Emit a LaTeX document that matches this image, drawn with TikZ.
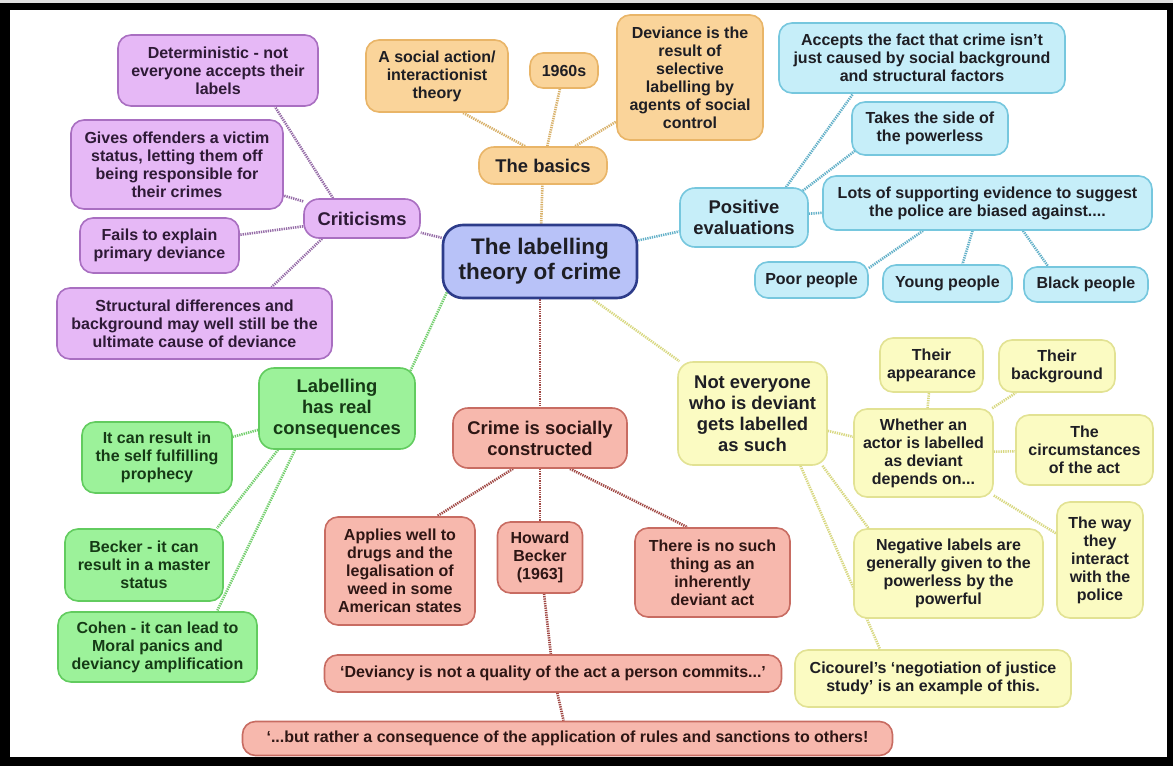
\documentclass[tikz,border=0pt]{standalone}
\usepackage{fontspec}
\setmainfont{Liberation Sans}
\usepackage{xcolor}
\usepackage{tikz}
\usetikzlibrary{positioning, backgrounds}
\definecolor{chub}{HTML}{B8C2F8}
\definecolor{chubd}{HTML}{2D3C8A}
\definecolor{corg}{HTML}{FAD49A}
\definecolor{corgd}{HTML}{E9B568}
\definecolor{cpur}{HTML}{E6B8F6}
\definecolor{cpurd}{HTML}{A96FC1}
\definecolor{ccya}{HTML}{C6EEF9}
\definecolor{ccyad}{HTML}{76C7DE}
\definecolor{cgrn}{HTML}{9CF29A}
\definecolor{cgrnd}{HTML}{62CC5F}
\definecolor{cred}{HTML}{F7B8AD}
\definecolor{credd}{HTML}{C86C62}
\definecolor{cyel}{HTML}{FBFBC2}
\definecolor{cyeld}{HTML}{E2E293}
\definecolor{clorg}{HTML}{D8B068}
\definecolor{clpur}{HTML}{946AA6}
\definecolor{clcya}{HTML}{62B0C8}
\definecolor{clgrn}{HTML}{72CF6C}
\definecolor{clred}{HTML}{A04844}
\definecolor{clyel}{HTML}{D8D880}
\definecolor{ctxt}{HTML}{1E1E24}
\definecolor{ctpur}{HTML}{2E1A36}
\definecolor{ctgrn}{HTML}{163A16}
\definecolor{ctred}{HTML}{2E1614}
\tikzset{
  hub/.style={draw=chubd, fill=chub, line width=2.6pt, rounded corners=20pt, align=center,
              text=ctxt, font=\fontsize{22.5}{25}\selectfont\bfseries, inner sep=2pt},
  brn/.style={line width=1.6pt, rounded corners=15pt, align=center, text=ctxt,
              font=\fontsize{18.4}{21}\selectfont\bfseries, inner sep=2pt},
  lf/.style={line width=1.6pt, rounded corners=13pt, align=center, text=ctxt,
             font=\fontsize{16}{18}\selectfont\bfseries, inner sep=2pt},
  sz/.style 2 args={minimum width=#1pt, minimum height=#2pt},
  tbas/.style={draw=corgd, fill=corg},
  tcrit/.style={draw=cpurd, fill=cpur, text=ctpur},
  tpos/.style={draw=ccyad, fill=ccya},
  tcons/.style={draw=cgrnd, fill=cgrn, text=ctgrn},
  tsoc/.style={draw=credd, fill=cred, text=ctred},
  tnot/.style={draw=cyeld, fill=cyel},
  lk/.style={draw=#1, line width=2.6pt, dash pattern=on 1.3pt off 1pt},
}

\begin{document}
\begin{tikzpicture}[x=1pt, y=-1pt, on grid]
  \node[hub, sz={194}{73}] (hub) at (540,261.5) {The labelling\\theory of crime};
  % the basics
  \node[brn, tbas, sz={128}{37}, above right=96pt and 3pt of hub] (basics) {The basics};
  \node[lf, tbas, sz={142}{72}, above left=89.5pt and 106pt of basics] (social) {A social action/\\interactionist\\theory};
  \node[lf, tbas, sz={68}{35}, above right=95pt and 21pt of basics] (sixties) {1960s};
  \node[lf, tbas, sz={146}{125}, above right=88pt and 147pt of basics] (selective) {Deviance is the\\result of\\selective\\labelling by\\agents of social\\control};
  % criticisms
  \node[brn, tcrit, sz={116}{39}, above left=43pt and 178pt of hub] (crit) {Criticisms};
  \node[lf, tcrit, sz={200}{71}, above left=148pt and 144pt of crit] (determ) {Deterministic - not\\everyone accepts their\\labels};
  \node[lf, tcrit, sz={212}{89}, above left=54pt and 185pt of crit] (victim) {Gives offenders a victim\\status, letting them off\\being responsible for\\their crimes};
  \node[lf, tcrit, sz={159}{55}, below left=27pt and 202.5pt of crit] (fails) {Fails to explain\\primary deviance};
  \node[lf, tcrit, sz={275}{71}, below left=105pt and 167.5pt of crit] (struct) {Structural differences and\\background may well still be the\\ultimate cause of deviance};
  % positive evaluations
  \node[brn, tpos, sz={128}{59}, above right=44pt and 204pt of hub] (pos) {Positive\\evaluations};
  \node[lf, tpos, sz={286}{70}, above right=159.5pt and 178pt of pos] (accepts) {Accepts the fact that crime isn’t\\just caused by social background\\and structural factors};
  \node[lf, tpos, sz={156}{53}, above right=89pt and 186pt of pos] (side) {Takes the side of\\the powerless};
  \node[lf, tpos, sz={329}{54}, above right=14.5pt and 243.5pt of pos] (lots) {Lots of supporting evidence to suggest\\the police are biased against....};
  \node[lf, tpos, sz={113}{36}, below left=77pt and 176pt of lots] (poor) {Poor people};
  \node[lf, tpos, sz={129}{37}, below left=80.5pt and 40pt of lots] (young) {Young people};
  \node[lf, tpos, sz={124}{35}, below right=81.5pt and 98.5pt of lots] (black) {Black people};
  % real consequences
  \node[brn, tcons, sz={156}{81}, below left=147pt and 203pt of hub] (real) {Labelling\\has real\\consequences};
  \node[lf, tcons, sz={150}{71}, below left=49pt and 180pt of real] (prophecy) {It can result in\\the self fulfilling\\prophecy};
  \node[lf, tcons, sz={158}{72}, below left=156.5pt and 193pt of real] (master) {Becker - it can\\result in a master\\status};
  \node[lf, tcons, sz={199}{70}, below left=238.5pt and 179.5pt of real] (cohen) {Cohen - it can lead to\\Moral panics and\\deviancy amplification};
  % socially constructed
  \node[brn, tsoc, sz={174}{60}, below=176.5pt of hub] (cons) {Crime is socially\\constructed};
  \node[lf, tsoc, sz={150}{108}, below left=133pt and 140pt of cons] (drugs) {Applies well to\\drugs and the\\legalisation of\\weed in some\\American states};
  \node[lf, tsoc, sz={85}{71}, below=119.5pt of cons] (becker) {Howard\\Becker\\(1963]};
  \node[lf, tsoc, sz={155}{89}, below right=134.5pt and 172.5pt of cons] (noact) {There is no such\\thing as an\\inherently\\deviant act};
  \node[lf, tsoc, sz={457}{37}, below right=116pt and 13pt of becker] (quote1) {‘Deviancy is not a quality of the act a person commits...’};
  \node[lf, tsoc, sz={650}{34}, below right=65pt and 14.5pt of quote1] (quote2) {‘...but rather a consequence of the application of rules and sanctions to others!};
  % not everyone labelled
  \node[brn, tnot, sz={149}{103}, below right=152pt and 212.5pt of hub] (noteach) {Not everyone\\who is deviant\\gets labelled\\as such};
  \node[lf, tnot, sz={139}{88}, below right=39.5pt and 171pt of noteach] (whether) {Whether an\\actor is labelled\\as deviant\\depends on...};
  \node[lf, tnot, sz={103}{54}, above right=88pt and 8pt of whether] (appear) {Their\\appearance};
  \node[lf, tnot, sz={116}{52}, above right=87pt and 133.5pt of whether] (backgr) {Their\\background};
  \node[lf, tnot, sz={137}{70}, above right=3pt and 161pt of whether] (circ) {The\\circumstances\\of the act};
  \node[lf, tnot, sz={86}{116}, below right=107pt and 176.5pt of whether] (police) {The way\\they\\interact\\with the\\police};
  \node[lf, tnot, sz={189}{89}, below right=160pt and 196pt of noteach] (negative) {Negative labels are\\generally given to the\\powerless by the\\powerful};
  \node[lf, tnot, sz={276}{57}, below right=265pt and 180.5pt of noteach] (cicourel) {Cicourel’s ‘negotiation of justice\\study’ is an example of this.};

  \begin{scope}[on background layer]
    % frame
    \fill[black!12] (0,0) rectangle (1173,3);
    \fill[black] (0,3) rectangle (1173,766);
    \fill[white] (10,10) rectangle (1167,757);
    % the basics
    \draw[lk=clorg] (hub) -- (basics);
    \draw[lk=clorg] ([xshift=-18pt]basics.north) -- ([xshift=26pt]social.south);
    \draw[lk=clorg] (basics) -- (sixties);
    \draw[lk=clorg] (basics) -- (selective);
    % criticisms
    \draw[lk=clpur] (hub) -- (crit);
    \draw[lk=clpur] ([xshift=-29pt]crit.north) -- ([xshift=57pt]determ.south);
    \draw[lk=clpur] (crit) -- (victim);
    \draw[lk=clpur] (crit) -- (fails);
    \draw[lk=clpur] ([xshift=-40pt]crit.south) -- ([xshift=77pt]struct.north);
    % positive evaluations
    \draw[lk=clcya] (hub) -- (pos);
    \draw[lk=clcya] ([xshift=42pt]pos.north) -- ([xshift=-69pt]accepts.south);
    \draw[lk=clcya] ([xshift=46pt,yshift=17pt]pos.center) -- ([xshift=-55pt,yshift=-7pt]side.center);
    \draw[lk=clcya] (pos) -- (lots);
    \draw[lk=clcya] ([xshift=-64.5pt]lots.south) -- ([yshift=12pt]poor.east);
    \draw[lk=clcya] ([xshift=-15pt]lots.south) -- ([xshift=15pt]young.north);
    \draw[lk=clcya] ([xshift=35.5pt]lots.south) -- ([xshift=-38pt]black.north);
    % real consequences
    \draw[lk=clgrn] ([xshift=-88.4pt,yshift=-20.5pt]hub.center) -- ([xshift=68.3pt,yshift=26.5pt]real.center);
    \draw[lk=clgrn] (real) -- (prophecy);
    \draw[lk=clgrn] ([xshift=-59pt]real.south) -- ([xshift=73pt]master.north);
    \draw[lk=clgrn] ([xshift=-42pt]real.south) -- ([xshift=59.5pt]cohen.north);
    % socially constructed
    \draw[lk=clred] (hub) -- (cons);
    \draw[lk=clred] ([xshift=-27pt]cons.south) -- ([xshift=37pt]drugs.north);
    \draw[lk=clred] (cons) -- (becker);
    \draw[lk=clred] ([xshift=30pt]cons.south) -- ([xshift=-25pt]noact.north);
    \draw[lk=clred] (becker) -- (quote1);
    \draw[lk=clred] (quote1) -- (quote2);
    % not everyone labelled
    \draw[lk=clyel] (hub) -- (noteach);
    \draw[lk=clyel] (noteach) -- (whether);
    \draw[lk=clyel] ([xshift=70pt]noteach.south) -- ([xshift=-80pt]negative.north);
    \draw[lk=clyel] ([xshift=48pt]noteach.south) -- ([xshift=-53pt]cicourel.north);
    \draw[lk=clyel] (whether) -- (appear);
    \draw[lk=clyel] (whether) -- (backgr);
    \draw[lk=clyel] (whether) -- (circ);
    \draw[lk=clyel] (whether) -- (police);
  \end{scope}
\end{tikzpicture}
\end{document}
